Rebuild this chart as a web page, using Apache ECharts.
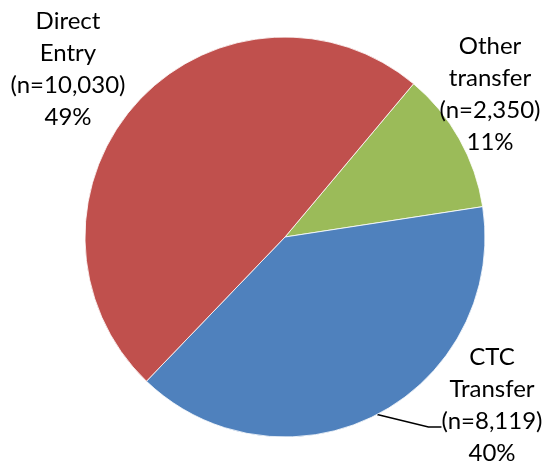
<!DOCTYPE html>
<html><head><meta charset="utf-8">
<script src="https://cdn.jsdelivr.net/npm/echarts@6/dist/echarts.min.js"></script>
<style>html,body{margin:0;padding:0;background:#fff}#c{width:545px;height:464px}</style>
</head><body><div id="c"></div>
<script>
const categories = ['Other\ntransfer', 'CTC\nTransfer', 'Direct\nEntry'];
const counts = [2350, 8119, 10030];
const colors = ['#9BBB59', '#4F81BD', '#C0504D'];

const total = counts.reduce((a, b) => a + b, 0);
const fmt = n => n.toLocaleString('en-US');
const labelPos = [
  { x: 490, y: 94 },
  { x: 492, y: 427 },
  { x: 68, y: 69 }
];

const chart = echarts.init(document.getElementById('c'));
chart.setOption({
  animation: false,
  series: [{
    type: 'pie',
    center: [285, 237],
    radius: 200,
    startAngle: 50,
    clockwise: true,
    data: categories.map((name, i) => ({
      name, value: counts[i],
      itemStyle: { color: colors[i] },
      labelLine: { show: i === 1 }
    })),
    itemStyle: { borderColor: '#fff', borderWidth: 0.8 },
    label: {
      show: true,
      position: 'outside',
      color: '#000',
      fontFamily: 'Lato',
      fontSize: 24,
      lineHeight: 32,
      align: 'center',
      overflow: 'none',
      rich: { p: { fontSize: 10, lineHeight: 44 } },
      formatter: p => p.name + '\n(n=' + fmt(p.value) + ')\n' + Math.round(p.value / total * 100) + '%' +
        (p.dataIndex === 1 ? '\n{p|\u00a0}' : '')
    },
    labelLine: { lineStyle: { color: '#000', width: 1.5 }, length: 10, length2: 13, minTurnAngle: 90 },
    labelLayout: p => ({ x: labelPos[p.dataIndex].x, y: labelPos[p.dataIndex].y, align: 'center', verticalAlign: 'middle' })
  }]
});
</script></body></html>
